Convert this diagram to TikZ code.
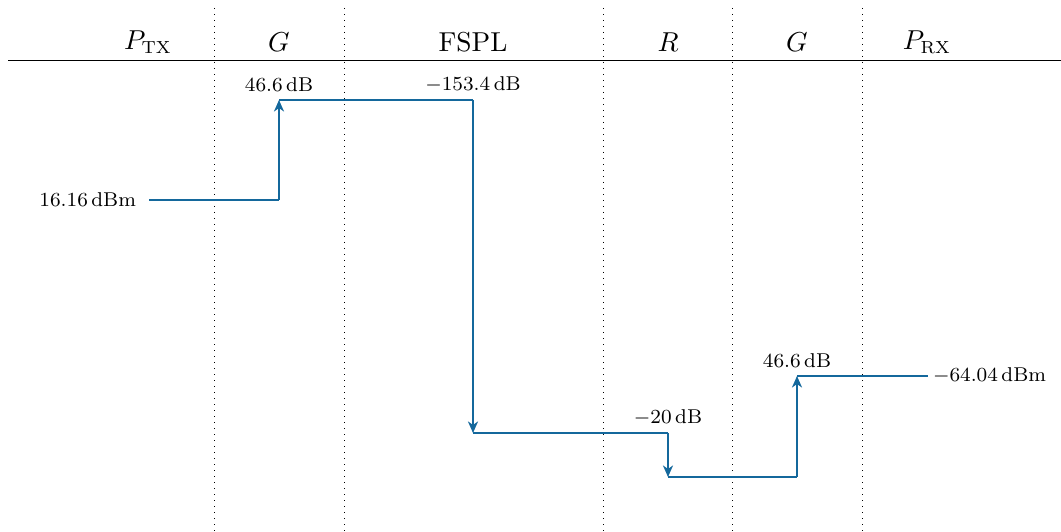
\documentclass[tikz,border=0pt]{standalone}
\usetikzlibrary{arrows.meta}
\definecolor{sig}{RGB}{20,104,156}
\begin{document}
\begin{tikzpicture}[x=0.4pt,y=-0.4pt,
  sep/.style={dotted, line width=0.4pt},
  sigline/.style={draw=sig, line width=0.9pt},
  sigarrow/.style={sigline, -{Stealth[length=4.6pt,width=4pt,inset=1.4pt]}},
  lbl/.style={font=\footnotesize, inner sep=1pt},
  hdr/.style={font=\fontsize{10.5}{12}\selectfont, inner sep=1pt}]
\useasboundingbox (0,0) rectangle (1061,532);
\coordinate (hl) at (8,61);
\coordinate (hr) at (1061,61);
\draw[line width=0.4pt] (hl) -- (hr);
\foreach \x/\n in {214/s1,344/s2,603/s3,732/s4,862/s5}{
  \coordinate (\n t) at (\x,8);
  \coordinate (\n b) at (\x,532);
  \draw[sep] (\n t) -- (\n b);
}
\node[hdr] (hptx) at (148,42) {$P_{\mathrm{TX}}$};
\node[hdr] (hg1) at (279,42) {$G$};
\node[hdr] (hfspl) at (473,42) {$\mathrm{FSPL}$};
\node[hdr] (hrr) at (668,42) {$R$};
\node[hdr] (hg2) at (797,42) {$G$};
\node[hdr] (hprx) at (927,42) {$P_{\mathrm{RX}}$};

\coordinate (a0) at (149,200);
\coordinate (a1) at (279,200);
\coordinate (a2) at (279,100);
\coordinate (a3) at (473,100);
\coordinate (a4) at (473,433);
\coordinate (a5) at (668,433);
\coordinate (a6) at (668,477);
\coordinate (a7) at (797,477);
\coordinate (a8) at (797,376);
\coordinate (a9) at (928,376);

\draw[sigline] (a0) -- (a1);
\draw[sigarrow] (a1) -- (a2);
\draw[sigline] (a2) -- (a3);
\draw[sigarrow] (a3) -- (a4);
\draw[sigline] (a4) -- (a5);
\draw[sigarrow] (a5) -- (a6);
\draw[sigline] (a6) -- (a7);
\draw[sigarrow] (a7) -- (a8);
\draw[sigline] (a8) -- (a9);

\node[lbl, anchor=east] (l0) at (139,200) {$16.16\,\mathrm{dBm}$};
\node[lbl] (l1) at (279,85) {$46.6\,\mathrm{dB}$};
\node[lbl] (l2) at (473,85) {$-153.4\,\mathrm{dB}$};
\node[lbl] (l3) at (668,418) {$-20\,\mathrm{dB}$};
\node[lbl] (l4) at (797,361) {$46.6\,\mathrm{dB}$};
\node[lbl, anchor=west] (l5) at (930,376) {$-64.04\,\mathrm{dBm}$};
\end{tikzpicture}
\end{document}
